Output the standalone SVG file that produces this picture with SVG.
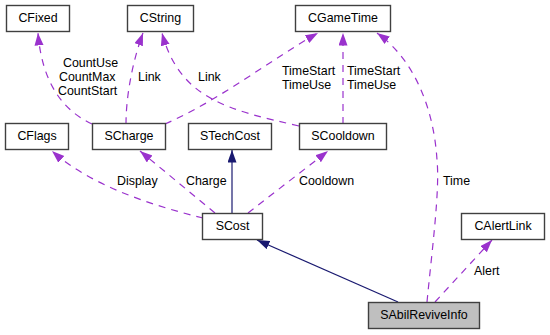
<svg xmlns="http://www.w3.org/2000/svg" width="550" height="335" viewBox="0 0 550 335">
  <style>
    .node rect { fill: #ffffff; stroke: #404040; stroke-width: 1.4; }
    .node.focus rect { fill: #bfbfbf; }
    text { font-family: "Liberation Sans", Arial, sans-serif; font-size: 12.4px; fill: #000000; }
    .node text { text-anchor: middle; }
    .use { fill: none; stroke: #9a32cd; stroke-width: 1.2; stroke-dasharray: 7,6; marker-end: url(#headUse); }
    .inh { fill: none; stroke: #191970; stroke-width: 1.2; marker-end: url(#headInh); }
  </style>
  <defs>
    <marker id="headUse" markerUnits="userSpaceOnUse" markerWidth="13" markerHeight="10" refX="12.5" refY="4.5" orient="auto">
      <path d="M0,0 L12.5,4.5 L0,9 z" fill="#9a32cd"/>
    </marker>
    <marker id="headInh" markerUnits="userSpaceOnUse" markerWidth="13" markerHeight="10" refX="12.5" refY="4.5" orient="auto">
      <path d="M0,0 L12.5,4.5 L0,9 z" fill="#191970"/>
    </marker>
  </defs>
  <rect width="550" height="335" fill="#ffffff"/>

  <!-- connectors -->
  <g id="edges">
    <path class="use" d="M92,124 C62,110 42,82 38,33"/>
    <path class="use" d="M126,124 C126,95 133,60 143,33"/>
    <path class="use" d="M299,126 C230,110 180,100 162,33"/>
    <path class="use" d="M165,124 C220,100 270,60 318,33"/>
    <path class="use" d="M343,124 L343,33"/>
    <path class="use" d="M427,302 C432,250 440,190 437,160 C434,110 415,60 377,33"/>
    <path class="use" d="M435,302 L492,240"/>
    <path class="use" d="M203,218 C150,205 90,185 52,151"/>
    <path class="use" d="M215,213 L140,151"/>
    <path class="use" d="M248,213 L328,151"/>
    <path class="inh" d="M232,213 L232,150"/>
    <path class="inh" d="M398,302 L257,240"/>

    <text x="63" y="66.5">CountUse</text>
    <text x="59" y="80.5">CountMax</text>
    <text x="58" y="95">CountStart</text>
    <text x="138" y="81">Link</text>
    <text x="198" y="81">Link</text>
    <text x="282" y="75">TimeStart</text>
    <text x="282" y="89">TimeUse</text>
    <text x="347" y="75">TimeStart</text>
    <text x="347" y="89">TimeUse</text>
    <text x="117" y="184.5">Display</text>
    <text x="186" y="184.5">Charge</text>
    <text x="299" y="184.5">Cooldown</text>
    <text x="443" y="184.5">Time</text>
    <text x="474" y="275">Alert</text>
  </g>

  <!-- nodes -->
  <g id="CFixed" class="node"><rect x="6.5" y="5.5" width="63" height="26"/><text x="38" y="22">CFixed</text></g>
  <g id="CString" class="node"><rect x="127.5" y="5.5" width="66" height="26"/><text x="160.5" y="22">CString</text></g>
  <g id="CGameTime" class="node"><rect x="295.5" y="5.5" width="95" height="26"/><text x="343" y="22">CGameTime</text></g>
  <g id="CFlags" class="node"><rect x="5.5" y="123.5" width="63" height="26"/><text x="37" y="140">CFlags</text></g>
  <g id="SCharge" class="node"><rect x="92.5" y="123.5" width="73" height="26"/><text x="129" y="140">SCharge</text></g>
  <g id="STechCost" class="node"><rect x="188.5" y="123.5" width="83" height="26"/><text x="230" y="140">STechCost</text></g>
  <g id="SCooldown" class="node"><rect x="299.5" y="123.5" width="87" height="26"/><text x="343" y="140">SCooldown</text></g>
  <g id="SCost" class="node"><rect x="202.5" y="213.5" width="60" height="26"/><text x="232.5" y="230">SCost</text></g>
  <g id="CAlertLink" class="node"><rect x="461.5" y="213.5" width="83" height="26"/><text x="503" y="230">CAlertLink</text></g>
  <g id="SAbilReviveInfo" class="node focus"><rect x="368.5" y="302.5" width="111" height="26"/><text x="424" y="319">SAbilReviveInfo</text></g>
</svg>
